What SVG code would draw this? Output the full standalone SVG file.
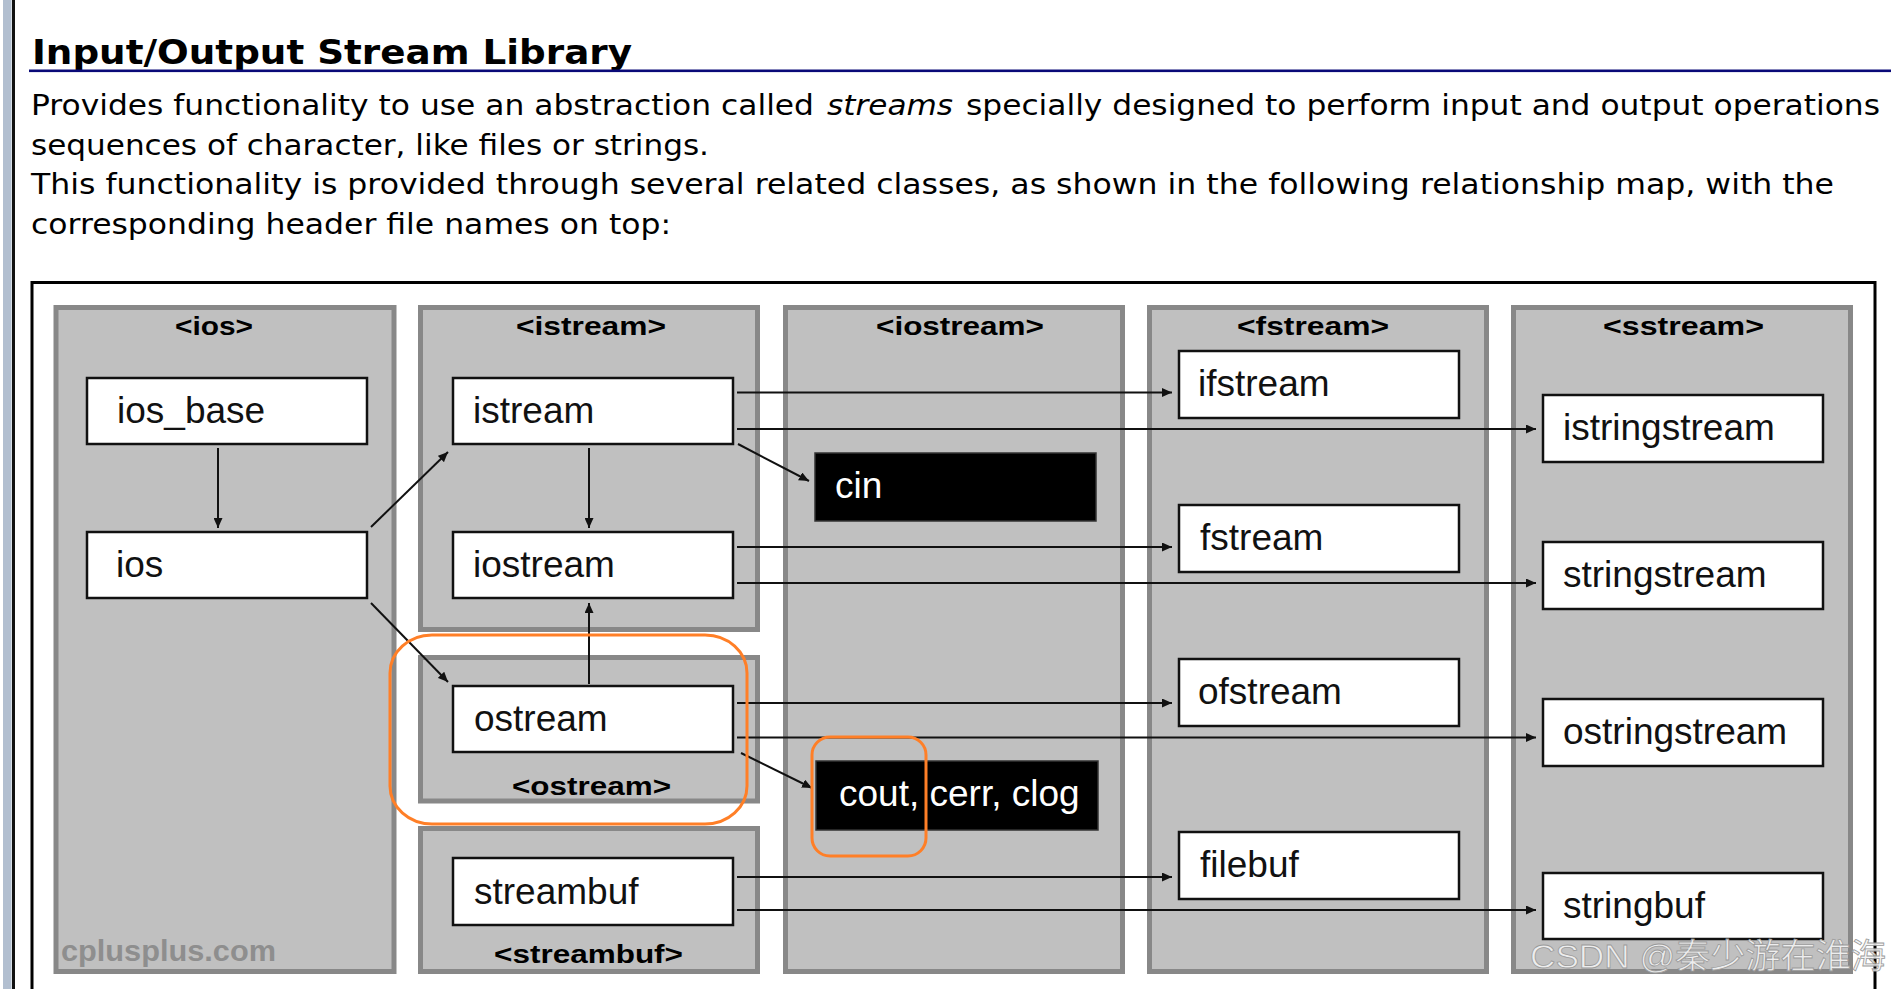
<svg xmlns="http://www.w3.org/2000/svg" width="1891" height="989" viewBox="0 0 1891 989">
<defs>
<style>
.body{font-family:"DejaVu Sans","Liberation Sans",sans-serif;font-size:28px;fill:#000}
.title{font-family:"DejaVu Sans","Liberation Sans",sans-serif;font-size:34px;font-weight:bold;fill:#000}
.col{fill:#c0c0c0;stroke:#888;stroke-width:5}
.hdr{font-family:"Liberation Sans",Arial,sans-serif;font-size:26px;font-weight:bold;fill:#000}
.box{fill:#fff;stroke:#111;stroke-width:2.5}
.bbox{fill:#000;stroke:#333;stroke-width:1.5}
.lbl{font-family:"Liberation Sans",Arial,sans-serif;font-size:37px;fill:#111}
.wlbl{font-family:"Liberation Sans",Arial,sans-serif;font-size:37px;fill:#fff}
.hl{fill:none;stroke:#ff7f27;stroke-width:3}
.conn{stroke:#111;stroke-width:2;fill:none;marker-end:url(#arr)}
</style>
<marker id="arr" markerUnits="userSpaceOnUse" markerWidth="10" markerHeight="9" refX="10" refY="4.5" orient="auto" viewBox="0 0 10 9">
<path d="M0,0 L10,4.5 L0,9 z" fill="#111"/>
</marker>
</defs>
<rect width="1891" height="989" fill="#fff"/>
<!-- left page bar -->
<rect x="3" y="0" width="8.5" height="989" fill="#b2bfd0"/>
<rect x="12" y="0" width="3" height="989" fill="#111"/>
<!-- heading -->
<text class="title" x="32" y="64" textLength="600" lengthAdjust="spacingAndGlyphs">Input/Output Stream Library</text>
<rect x="29" y="69.5" width="1862" height="2.6" fill="#0a0a78"/>
<text class="body" x="31" y="115" textLength="783" lengthAdjust="spacingAndGlyphs">Provides functionality to use an abstraction called</text>
<text class="body" x="827" y="115" font-style="italic" textLength="126" lengthAdjust="spacingAndGlyphs">streams</text>
<text class="body" x="966" y="115" textLength="914" lengthAdjust="spacingAndGlyphs">specially designed to perform input and output operations</text>
<text class="body" x="31" y="154.5" textLength="678" lengthAdjust="spacingAndGlyphs">sequences of character, like files or strings.</text>
<text class="body" x="31" y="194" textLength="1803" lengthAdjust="spacingAndGlyphs">This functionality is provided through several related classes, as shown in the following relationship map, with the</text>
<text class="body" x="31" y="233.5" textLength="640" lengthAdjust="spacingAndGlyphs">corresponding header file names on top:</text>
<!-- diagram frame -->
<rect x="32" y="282.5" width="1843" height="800" fill="none" stroke="#000" stroke-width="3"/>
<!-- header columns -->
<g id="col-ios">
<rect class="col" x="56" y="307.5" width="338" height="664"/>
<text class="hdr" x="175" y="335" textLength="78" lengthAdjust="spacingAndGlyphs">&lt;ios&gt;</text>
<text x="61" y="961" font-family="Liberation Sans,Arial,sans-serif" font-size="29" font-weight="bold" fill="#8e8e8e" textLength="215" lengthAdjust="spacingAndGlyphs">cplusplus.com</text>
</g>
<g id="col-istream">
<rect class="col" x="420.5" y="307.5" width="337" height="322"/>
<text class="hdr" x="516" y="335" textLength="150" lengthAdjust="spacingAndGlyphs">&lt;istream&gt;</text>
</g>
<g id="col-ostream">
<rect class="col" x="420.5" y="657.5" width="337" height="143.5"/>
<text class="hdr" x="512" y="795" textLength="159" lengthAdjust="spacingAndGlyphs">&lt;ostream&gt;</text>
</g>
<g id="col-streambuf">
<rect class="col" x="420.5" y="828.5" width="337" height="143"/>
<text class="hdr" x="494" y="963" textLength="189" lengthAdjust="spacingAndGlyphs">&lt;streambuf&gt;</text>
</g>
<g id="col-iostream">
<rect class="col" x="785.5" y="307.5" width="337" height="664"/>
<text class="hdr" x="876" y="335" textLength="168" lengthAdjust="spacingAndGlyphs">&lt;iostream&gt;</text>
</g>
<g id="col-fstream">
<rect class="col" x="1149.5" y="307.5" width="337" height="664"/>
<text class="hdr" x="1237" y="335" textLength="152" lengthAdjust="spacingAndGlyphs">&lt;fstream&gt;</text>
</g>
<g id="col-sstream">
<rect class="col" x="1513.5" y="307.5" width="337" height="664"/>
<text class="hdr" x="1603" y="335" textLength="161" lengthAdjust="spacingAndGlyphs">&lt;sstream&gt;</text>
</g>
<!-- connectors -->
<g id="connectors">
<path class="conn" d="M218,448 V528"/>
<path class="conn" stroke-width="1.6" d="M371,527 L448,452"/>
<path class="conn" stroke-width="1.6" d="M371,603 L448,682"/>
<path class="conn" d="M589,448 V528"/>
<path class="conn" d="M589,684 V603"/>
<path class="conn" stroke-width="1.6" d="M738,444 L809,481"/>
<path class="conn" d="M737,392.5 H1172"/>
<path class="conn" d="M737,429 H1536"/>
<path class="conn" d="M737,547 H1172"/>
<path class="conn" d="M737,583 H1536"/>
<path class="conn" d="M737,703 H1172"/>
<path class="conn" stroke-width="3" d="M737,737.5 H1536"/>
<path class="conn" stroke-width="1.6" d="M741,753 L812,788"/>
<path class="conn" d="M737,877 H1172"/>
<path class="conn" d="M737,910 H1536"/>
</g>
<!-- nodes -->
<g id="n-ios_base"><rect class="box" x="87" y="378" width="280" height="66"/><text class="lbl" x="117" y="423">ios_base</text></g>
<g id="n-ios"><rect class="box" x="87" y="532" width="280" height="66"/><text class="lbl" x="116" y="577">ios</text></g>
<g id="n-istream"><rect class="box" x="453" y="378" width="280" height="66"/><text class="lbl" x="473" y="423">istream</text></g>
<g id="n-iostream"><rect class="box" x="453" y="532" width="280" height="66"/><text class="lbl" x="473" y="577">iostream</text></g>
<g id="n-ostream"><rect class="box" x="453" y="686" width="280" height="66"/><text class="lbl" x="474" y="731">ostream</text></g>
<g id="n-streambuf"><rect class="box" x="453" y="858" width="280" height="67"/><text class="lbl" x="474" y="904">streambuf</text></g>
<g id="n-cin"><rect class="bbox" x="815" y="453" width="281" height="68"/><text class="wlbl" x="835" y="498">cin</text></g>
<g id="n-cout"><rect class="bbox" x="816" y="761" width="282" height="69"/><text class="wlbl" x="839" y="806">cout, cerr, clog</text></g>
<g id="n-ifstream"><rect class="box" x="1179" y="351" width="280" height="67"/><text class="lbl" x="1198" y="396">ifstream</text></g>
<g id="n-fstream"><rect class="box" x="1179" y="505" width="280" height="67"/><text class="lbl" x="1200" y="550">fstream</text></g>
<g id="n-ofstream"><rect class="box" x="1179" y="659" width="280" height="67"/><text class="lbl" x="1198" y="704">ofstream</text></g>
<g id="n-filebuf"><rect class="box" x="1179" y="832" width="280" height="67"/><text class="lbl" x="1200" y="877">filebuf</text></g>
<g id="n-istringstream"><rect class="box" x="1543" y="395" width="280" height="67"/><text class="lbl" x="1563" y="440">istringstream</text></g>
<g id="n-stringstream"><rect class="box" x="1543" y="542" width="280" height="67"/><text class="lbl" x="1563" y="587">stringstream</text></g>
<g id="n-ostringstream"><rect class="box" x="1543" y="699" width="280" height="67"/><text class="lbl" x="1563" y="744">ostringstream</text></g>
<g id="n-stringbuf"><rect class="box" x="1543" y="873" width="280" height="66"/><text class="lbl" x="1563" y="918">stringbuf</text></g>
<!-- highlights -->
<g id="highlights">
<rect class="hl" x="390" y="635" width="357" height="189" rx="42" ry="38"/>
<rect class="hl" x="812" y="737" width="114" height="119" rx="18" ry="18"/>
</g>
<!-- watermark -->
<text x="1530" y="968" font-family="Liberation Sans,'Noto Sans CJK SC',sans-serif" font-size="34" fill="#f4f4f4" fill-opacity="0.9" stroke="#9a9a9a" stroke-width="0.8" textLength="356" lengthAdjust="spacingAndGlyphs">CSDN @秦少游在淮海</text>
</svg>
